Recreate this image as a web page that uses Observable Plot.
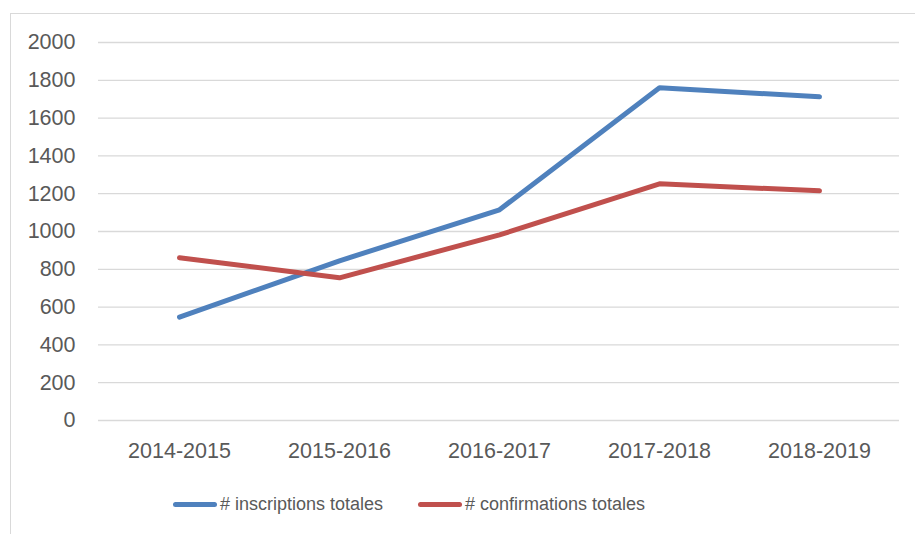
<!DOCTYPE html>
<html>
<head>
<meta charset="utf-8">
<script src="https://cdn.jsdelivr.net/npm/d3@7"></script>
<script src="https://cdn.jsdelivr.net/npm/@observablehq/plot@0.6"></script>
<style>
  html, body { margin: 0; padding: 0; background: #fff; overflow: hidden; }
  #wrap { position: relative; width: 915px; height: 534px; overflow: hidden; font-family: "Liberation Sans", Arial, sans-serif; }
  #frame { position: absolute; left: 10px; top: 13px; width: 960px; height: 600px; border: 1px solid #d9d9d9; box-sizing: border-box; }
  #chart { position: absolute; left: 0; top: 0; }
  #legend { position: absolute; top: 492px; left: 0; width: 915px; height: 24px; font-size: 18px; color: #595959; }
  .item { position: absolute; top: 0; display: flex; align-items: center; height: 24px; }
  .sw { display: inline-block; width: 44px; height: 5px; border-radius: 3px; margin-right: 3px; }
</style>
</head>
<body>
<div id="wrap">
  <div id="frame"></div>
  <div id="chart"></div>
  <div id="legend"></div>
</div>
<script>
const seasons = ["2014-2015", "2015-2016", "2016-2017", "2017-2018", "2018-2019"];
const inscriptions = [547, 845, 1115, 1760, 1713];
const confirmations = [861, 755, 982, 1252, 1215];
const seriesNames = ["# inscriptions totales", "# confirmations totales"];
const seriesColors = ["#4F81BD", "#C0504D"];
const yTicks = [0, 200, 400, 600, 800, 1000, 1200, 1400, 1600, 1800, 2000];

const rows = [];
seasons.forEach((s, i) => {
  rows.push({season: s, value: inscriptions[i], series: seriesNames[0]});
  rows.push({season: s, value: confirmations[i], series: seriesNames[1]});
});

const chart = Plot.plot({
  width: 915,
  height: 470,
  marginLeft: 98,
  marginRight: 16,
  marginTop: 42,
  marginBottom: 50,
  style: {fontFamily: '"Liberation Sans", Arial, sans-serif', fontSize: "21.5px", color: "#595959", background: "transparent"},
  x: {type: "point", domain: seasons, padding: 0.5, label: null},
  y: {domain: [0, 2000], label: null},
  color: {domain: seriesNames, range: seriesColors},
  marks: [
    Plot.ruleY(yTicks, {stroke: "#d9d9d9", strokeWidth: 1.3}),
    Plot.axisY({ticks: yTicks, tickFormat: d => String(d), tickSize: 0, tickPadding: 23, label: null, fill: "#595959", fontSize: 21.5}),
    Plot.axisX({tickSize: 0, tickPadding: 22, label: null, fill: "#595959", fontSize: 21.5}),
    Plot.line(rows, {x: "season", y: "value", z: "series", stroke: "series", strokeWidth: 5, strokeLinecap: "round", strokeLinejoin: "miter"})
  ]
});
document.getElementById("chart").appendChild(chart);

const legend = document.getElementById("legend");
const lefts = [173, 418];
seriesNames.forEach((n, i) => {
  const it = document.createElement("div");
  it.className = "item";
  it.style.left = lefts[i] + "px";
  const sw = document.createElement("span");
  sw.className = "sw";
  sw.style.background = seriesColors[i];
  const t = document.createElement("span");
  t.textContent = n;
  it.appendChild(sw);
  it.appendChild(t);
  legend.appendChild(it);
});
</script>
</body>
</html>
